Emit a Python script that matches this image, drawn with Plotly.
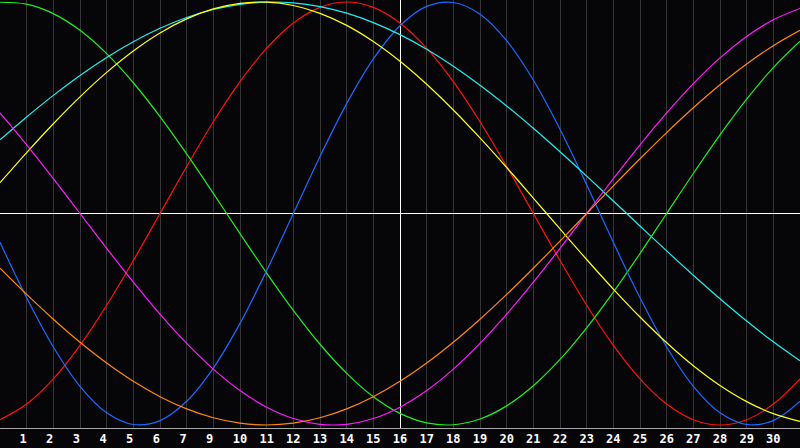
import plotly.graph_objects as go

# Day slots across the chart (0 = left edge, 30 = right edge)
DAYS = list(range(31))

# Tick labels at day grid lines 1..29 (date 8 is skipped in the source chart)
TICK_POS = list(range(1, 30))
TICK_LABELS = ["1", "2", "3", "4", "5", "6", "7", "9", "10", "11", "12", "13", "14", "15",
               "16", "17", "18", "19", "20", "21", "22", "23", "24", "25", "26", "27", "28",
               "29", "30"]
TODAY_POS = 15

# Cycle values read at each day slot
RED = [-0.9749, -0.9010, -0.7818, -0.6235, -0.4339, -0.2225, 0.0, 0.2225, 0.4339, 0.6235,
       0.7818, 0.9010, 0.9749, 1.0, 0.9749, 0.9010, 0.7818, 0.6235, 0.4339, 0.2225, 0.0,
       -0.2225, -0.4339, -0.6235, -0.7818, -0.9010, -0.9749, -1.0, -0.9749, -0.9010, -0.7818]
GREEN = [0.9989, 0.9898, 0.9450, 0.8660, 0.7557, 0.6182, 0.4582, 0.2817, 0.0951, -0.0951,
         -0.2817, -0.4582, -0.6182, -0.7557, -0.8660, -0.9450, -0.9898, -0.9989, -0.9718,
         -0.9096, -0.8146, -0.6901, -0.5406, -0.3717, -0.1893, 0.0, 0.1893, 0.3717, 0.5406,
         0.6901, 0.8146]
BLUE = [-0.1362, -0.3984, -0.6311, -0.8170, -0.9423, -0.9977, -0.9791, -0.8879, -0.7308,
        -0.5196, -0.2698, 0.0, 0.2698, 0.5196, 0.7308, 0.8879, 0.9791, 0.9977, 0.9423, 0.8170,
        0.6311, 0.3984, 0.1362, -0.1362, -0.3984, -0.6311, -0.8170, -0.9423, -0.9977, -0.9791,
        -0.8879]
CYAN = [0.3482, 0.4566, 0.5586, 0.6528, 0.7378, 0.8125, 0.8757, 0.9267, 0.9646, 0.9890,
        0.9996, 0.9961, 0.9786, 0.9473, 0.9028, 0.8456, 0.7765, 0.6966, 0.6068, 0.5085,
        0.4031, 0.2920, 0.1769, 0.0592, -0.0592, -0.1769, -0.2920, -0.4031, -0.5085, -0.6068,
        -0.6966]
YELLOW = [0.1456, 0.2881, 0.4245, 0.5517, 0.6673, 0.7687, 0.8536, 0.9203, 0.9675, 0.9940,
          0.9993, 0.9834, 0.9464, 0.8894, 0.8133, 0.7199, 0.6112, 0.4894, 0.3572, 0.2174,
          0.0730, -0.0730, -0.2174, -0.3572, -0.4894, -0.6112, -0.7199, -0.8133, -0.8894,
          -0.9464, -0.9834]
MAGENTA = [0.4759, 0.3247, 0.1646, 0.0, -0.1646, -0.3247, -0.4759, -0.6142, -0.7357, -0.8372,
           -0.9158, -0.9694, -0.9966, -0.9966, -0.9694, -0.9158, -0.8372, -0.7357, -0.6142,
           -0.4759, -0.3247, -0.1646, 0.0, 0.1646, 0.3247, 0.4759, 0.6142, 0.7357, 0.8372,
           0.9158, 0.9694]
ORANGE = [-0.2588, -0.3827, -0.5, -0.6088, -0.7071, -0.7934, -0.8660, -0.9239, -0.9659,
          -0.9914, -1.0, -0.9914, -0.9659, -0.9239, -0.8660, -0.7934, -0.7071, -0.6088, -0.5,
          -0.3827, -0.2588, -0.1305, 0.0, 0.1305, 0.2588, 0.3827, 0.5, 0.6088, 0.7071, 0.7934,
          0.8660]

SERIES = [
    ("red", RED, "#ff1010"),
    ("green", GREEN, "#1ef01e"),
    ("blue", BLUE, "#1a6cff"),
    ("cyan", CYAN, "#1ef0f0"),
    ("yellow", YELLOW, "#ffff1a"),
    ("magenta", MAGENTA, "#ff1aff"),
    ("orange", ORANGE, "#ff8a10"),
]

BG = "#060508"
PLOT_W = 800
X_SPAN = 30
Y_RANGE = [-1.0142, 1.0095]
HALF_PX = 0.5 * X_SPAN / PLOT_W  # align the 1px "today" line to a pixel column

fig = go.Figure()
# "today" marker line, drawn first so the curves pass over it
fig.add_trace(go.Scatter(x=[TODAY_POS + HALF_PX, TODAY_POS + HALF_PX], y=Y_RANGE,
                         mode="lines", line=dict(color="white", width=1),
                         hoverinfo="skip", name="today"))
for name, vals, col in SERIES:
    fig.add_trace(go.Scatter(x=DAYS, y=vals, mode="lines", name=name,
                             line=dict(color=col, width=1.2, shape="spline", smoothing=1),
                             hoverinfo="skip"))

ticktext = [(lbl + "\u00a0") if len(lbl) == 1 else lbl for lbl in TICK_LABELS]

fig.update_layout(
    width=PLOT_W, height=448,
    margin=dict(l=0, r=0, t=0, b=20),
    paper_bgcolor=BG, plot_bgcolor=BG,
    showlegend=False,
)
fig.update_xaxes(range=[0, X_SPAN], tickmode="array", tickvals=TICK_POS, ticktext=ticktext,
                 showgrid=True, gridcolor="#363636", gridwidth=1, zeroline=False,
                 showline=True, linecolor="#a8a8a8", linewidth=1, mirror=True,
                 ticks="", tickfont=dict(family="DejaVu Sans Mono", size=12, color="white",
                                         weight="bold"))
fig.update_yaxes(range=Y_RANGE, showgrid=False, showticklabels=False,
                 zeroline=True, zerolinecolor="white", zerolinewidth=1,
                 showline=True, linecolor="#a8a8a8", linewidth=1, mirror=False, ticks="")

fig.write_html("out.html", config={"displayModeBar": False},
               post_script="document.body.style.margin='0';document.body.style.background='" + BG + "';")
